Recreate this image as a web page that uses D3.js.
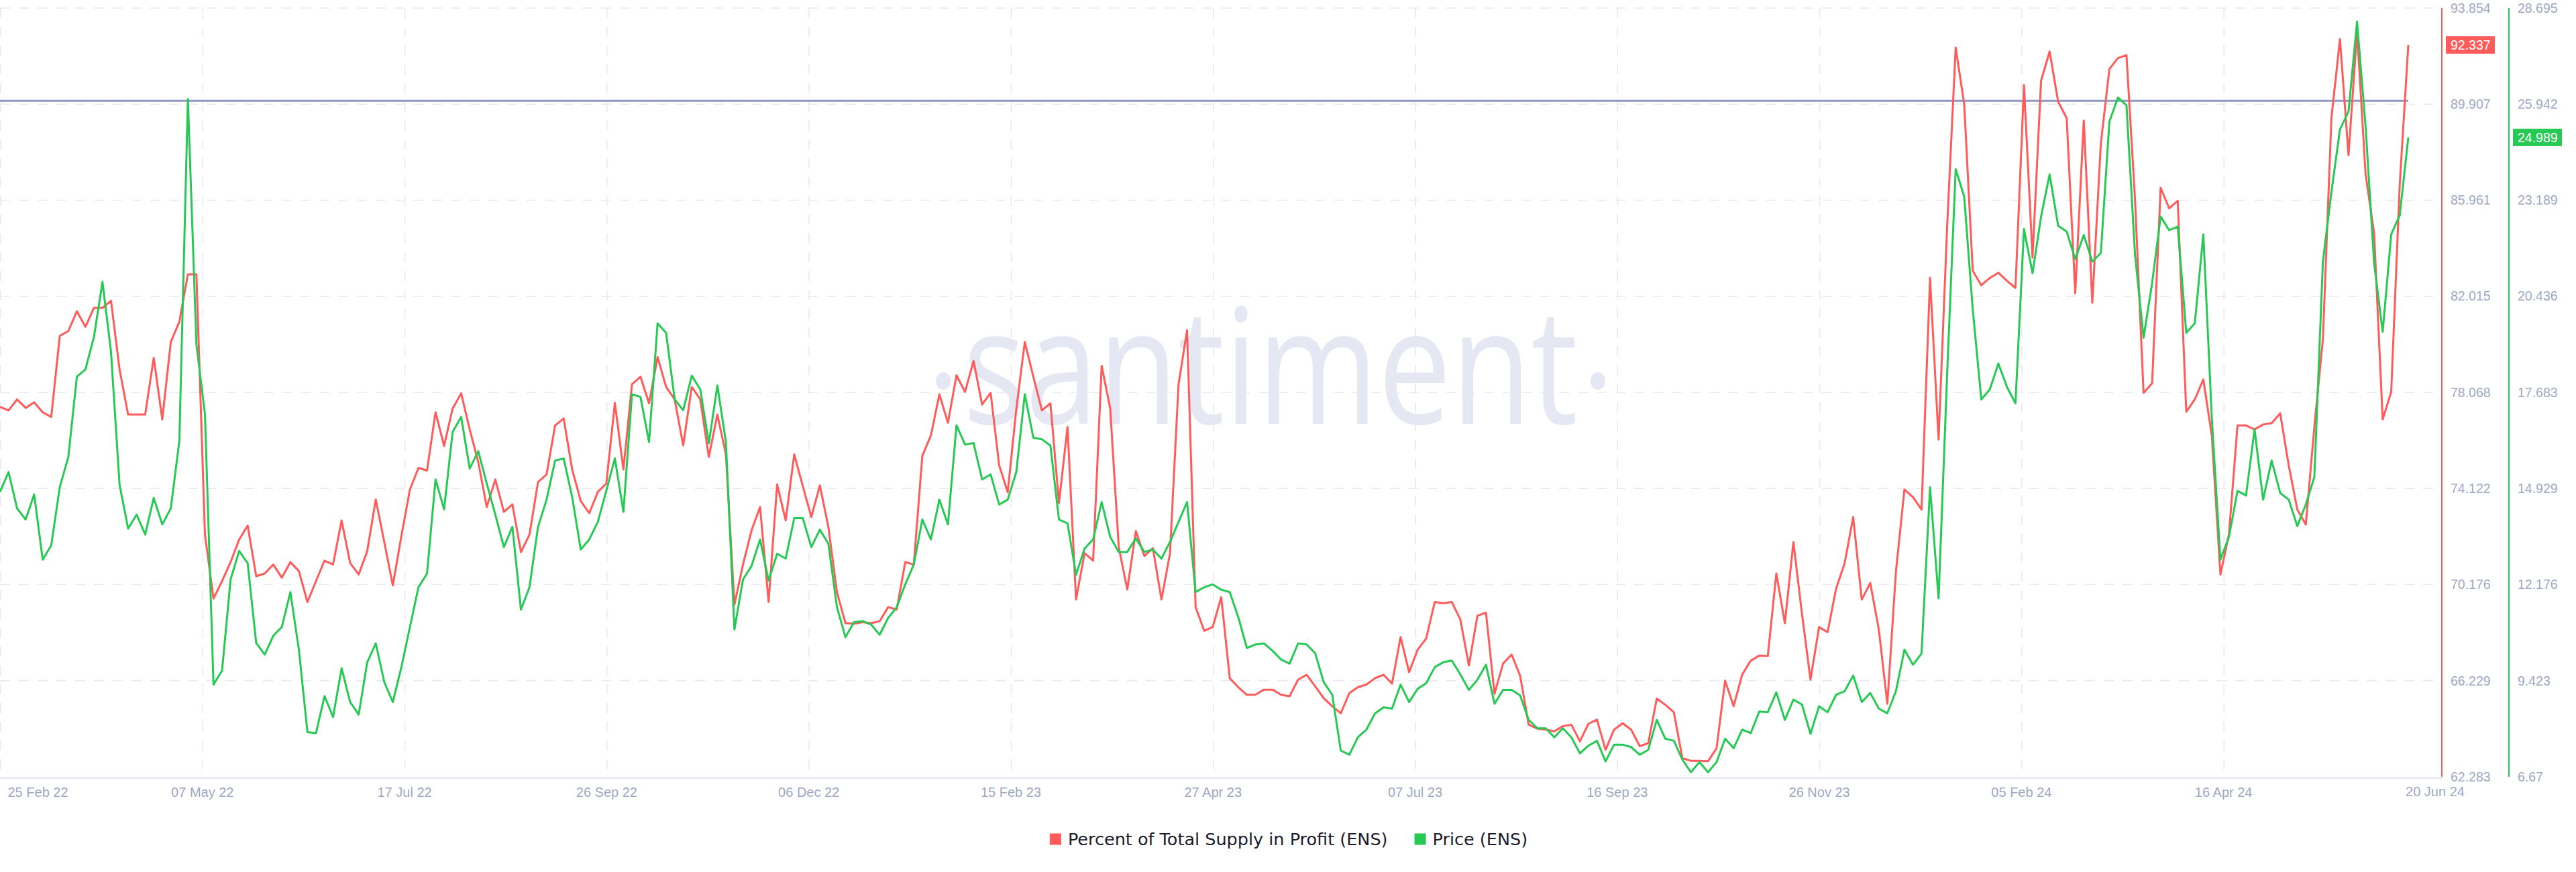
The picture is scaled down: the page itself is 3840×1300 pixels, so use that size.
<!DOCTYPE html>
<html>
<head>
<meta charset="utf-8">
<script src="https://cdn.jsdelivr.net/npm/d3@7"></script>
<style>
  html, body { margin: 0; padding: 0; background: #ffffff; }
  svg { display: block; }
</style>
</head>
<body>
<svg id="chart" width="3840" height="1300"></svg>
<script>
// ---------------- DATA ----------------
const START_DATE = "2022-02-25";   // first sample
const STEP_DAYS = 3;               // sampling step of the series below

// Percent of Total Supply in Profit (ENS)
const profitPct = [
  77.47, 77.33, 77.78, 77.43, 77.66, 77.25, 77.06, 80.39, 80.59, 81.40,
  80.76, 81.54, 81.54, 81.83, 79.01, 77.16, 77.16, 77.16, 79.49, 76.96,
  80.14, 80.97, 82.92, 82.92, 72.23, 69.60, 70.32, 71.10, 72.02, 72.60,
  70.52, 70.63, 71.00, 70.46, 71.10, 70.73, 69.46, 70.32, 71.16, 71.00,
  72.81, 71.06, 70.59, 71.55, 73.67, 71.92, 70.14, 72.17,
  74.08, 74.97, 74.86, 77.25, 75.87, 77.41, 78.03, 76.55, 75.21, 73.36,
  74.49, 73.16, 73.47, 71.51, 72.23, 74.39, 74.70, 76.71, 77.00, 74.90,
  73.61, 73.11, 73.98, 74.33, 77.64, 74.90, 78.40, 78.71, 77.62, 79.52,
  78.29, 77.78, 75.89, 78.29, 77.78, 75.42, 77.16, 75.52, 69.35, 71.00,
  72.40, 73.36, 69.46, 74.29, 72.81, 75.52, 74.22,
  72.95, 74.25, 72.54, 69.87, 68.59, 68.57, 68.63, 68.59, 68.67, 69.25,
  69.15, 71.10, 71.00, 75.46, 76.30, 77.99, 76.82, 78.77, 78.09, 79.36,
  77.57, 78.05, 75.07, 73.97, 77.37, 80.14, 78.71, 77.33, 77.62, 73.53,
  76.65, 69.56, 71.47, 71.16, 79.16, 77.41, 71.72, 69.97, 72.37, 71.35,
  71.67, 69.56, 71.45, 78.40, 80.62, 69.25, 68.28, 68.43,
  69.66, 66.33, 65.96, 65.65, 65.65, 65.86, 65.86, 65.65, 65.59, 66.27,
  66.47, 66.00, 65.51, 65.18, 64.89, 65.72, 65.96, 66.07, 66.33, 66.47,
  66.11, 68.02, 66.58, 67.50, 67.96, 69.46, 69.41, 69.46, 68.74, 66.85,
  68.90, 69.02, 65.69, 66.93, 67.30, 66.43, 64.42, 64.26, 64.22, 64.15,
  64.36, 64.42, 63.74, 64.46, 64.63, 63.39, 64.22,
  64.48, 64.22, 63.54, 63.66, 65.49, 65.24, 64.93, 63.04, 62.94, 62.94,
  62.92, 63.45, 66.23, 65.18, 66.48, 67.05, 67.26, 67.24, 70.63, 68.59,
  71.92, 68.98, 66.27, 68.43, 68.22, 70.01, 71.06, 72.95, 69.56, 70.24,
  68.33, 65.28, 70.69, 74.08, 73.77, 73.26, 82.77, 76.13, 84.87, 92.23,
  89.91, 83.06, 82.47, 82.77, 82.98, 82.65, 82.36,
  90.69, 83.60, 90.87, 92.07, 90.01, 89.33, 82.14, 89.23, 81.75, 88.30,
  91.35, 91.80, 91.92, 86.00, 78.05, 78.44, 86.47, 85.63, 85.94, 77.27,
  77.78, 78.60, 76.28, 70.59, 72.23, 76.71, 76.71, 76.55, 76.75, 76.81,
  77.21, 75.07, 73.26, 72.64, 76.65, 80.25, 89.35, 92.58, 87.81, 92.89,
  87.03, 84.60, 76.96, 78.09, 86.62, 92.337
];

// Price (ENS), USD
const price = [
  14.83, 15.40, 14.36, 14.04, 14.76, 12.89, 13.30, 14.97, 15.83, 18.13,
  18.34, 19.27, 20.85, 18.84, 15.04, 13.78, 14.18, 13.61, 14.66, 13.90,
  14.36, 16.29, 26.09, 19.06, 17.05, 9.31, 9.71, 12.32, 13.14, 12.79,
  10.50, 10.17, 10.71, 10.96, 11.96, 10.31, 7.95, 7.92, 8.98, 8.38,
  9.78, 8.81, 8.45, 9.95, 10.49, 9.38, 8.81, 9.81,
  10.96, 12.10, 12.49, 15.19, 14.33, 16.55, 16.98, 15.50, 16.00, 15.07,
  14.18, 13.25, 13.83, 11.46, 12.10, 13.83, 14.61, 15.73, 15.79, 14.68,
  13.18, 13.47, 13.97, 14.87, 15.79, 14.26, 17.63, 17.55, 16.26, 19.66,
  19.39, 17.48, 17.17, 18.16, 17.77, 16.22, 17.88, 16.26, 10.89, 12.32,
  12.71, 13.47, 12.29, 13.06, 12.92, 14.08, 14.08,
  13.25, 13.75, 13.35, 11.53, 10.67, 11.10, 11.13, 11.03, 10.74, 11.22,
  11.53, 12.18, 12.75, 14.04, 13.47, 14.61, 13.90, 16.74, 16.19, 16.23,
  15.19, 15.33, 14.47, 14.61, 15.40, 17.63, 16.38, 16.34, 16.16, 14.04,
  13.93, 12.46, 13.21, 13.47, 14.54, 13.54, 13.11, 13.11, 13.50, 13.11,
  13.18, 12.92, 13.40, 13.97, 14.54, 11.96, 12.10, 12.18,
  12.03, 11.96, 11.24, 10.36, 10.46, 10.49, 10.28, 10.03, 9.91, 10.49,
  10.46, 10.21, 9.38, 9.02, 7.42, 7.30, 7.80, 8.02, 8.48, 8.66,
  8.62, 9.31, 8.81, 9.19, 9.35, 9.81, 9.95, 10.00, 9.60, 9.16,
  9.45, 9.88, 8.76, 9.16, 9.16, 9.00, 8.30, 8.06, 8.06, 7.80,
  8.06, 7.80, 7.34, 7.56, 7.70, 7.11, 7.59,
  7.59, 7.52, 7.30, 7.44, 8.30, 7.76, 7.70, 7.16, 6.80, 7.09,
  6.80, 7.09, 7.76, 7.49, 8.02, 7.92, 8.54, 8.52, 9.09, 8.30,
  8.88, 8.74, 7.90, 8.69, 8.52, 9.02, 9.12, 9.57, 8.81, 9.07,
  8.62, 8.49, 9.12, 10.31, 9.88, 10.20, 14.97, 11.78, 18.20, 24.08,
  23.29, 20.06, 17.48, 17.77, 18.51, 17.84, 17.37,
  22.36, 21.10, 22.72, 23.93, 22.46, 22.29, 21.50, 22.19, 21.43, 21.68,
  25.44, 26.13, 25.91, 21.64, 19.25, 20.81, 22.72, 22.33, 22.43, 19.39,
  19.66, 22.21, 16.91, 12.89, 13.54, 14.86, 14.73, 16.62, 14.61, 15.73,
  14.80, 14.61, 13.85, 14.47, 15.26, 21.43, 23.43, 25.22, 25.73, 28.31,
  25.30, 21.38, 19.42, 22.21, 22.76, 24.989
];

const xTickLabels = ["25 Feb 22", "07 May 22", "17 Jul 22", "26 Sep 22", "06 Dec 22", "15 Feb 23",
                     "27 Apr 23", "07 Jul 23", "16 Sep 23", "26 Nov 23", "05 Feb 24", "16 Apr 24"];
const endDateLabel = "20 Jun 24";
const profitTicks = ["62.283", "66.229", "70.176", "74.122", "78.068", "82.015", "85.961", "89.907", "93.854"];
const priceTicks  = ["6.67", "9.423", "12.176", "14.929", "17.683", "20.436", "23.189", "25.942", "28.695"];
const referencePrice = 26.04;   // horizontal reference line (price units)
const seriesNames = ["Percent of Total Supply in Profit (ENS)", "Price (ENS)"];
const seriesColors = ["#ff5b5b", "#26c953"];

// ---------------- CHART ----------------
const plot = { left: 0, right: 3640, top: 12, bottom: 1158, dataRight: 3590 };
const svg = d3.select("#chart");
const gray = "#9ea8c4";
const gridColor = "#e6e9f3";

const parseISO = d3.utcParse("%Y-%m-%d");
const parseTick = d3.utcParse("%d %b %y");
const start = parseISO(START_DATE);
const dates = profitPct.map((_, i) => d3.utcDay.offset(start, i * STEP_DAYS));
const endDate = parseTick(endDateLabel);

const x = d3.scaleUtc().domain([start, endDate]).range([plot.left, plot.dataRight]);
const pTickVals = profitTicks.map(Number);
const gTickVals = priceTicks.map(Number);
const yP = d3.scaleLinear().domain([d3.min(pTickVals), d3.max(pTickVals)]).range([plot.bottom, plot.top]);
const yG = d3.scaleLinear().domain([d3.min(gTickVals), d3.max(gTickVals)]).range([plot.bottom, plot.top]);

// watermark
const wm = svg.append("g").attr("fill", "#e5e8f2");
wm.append("text")
  .attr("transform", "translate(1894,632) scale(0.81,1)")
  .attr("text-anchor", "middle")
  .attr("font-family", "'Open Sans', 'Noto Sans', sans-serif")
  .attr("font-size", 240)
  .text("santiment");
wm.append("ellipse").attr("cx", 1406).attr("cy", 568).attr("rx", 11).attr("ry", 13);
wm.append("ellipse").attr("cx", 2382).attr("cy", 568).attr("rx", 11).attr("ry", 13);

// grid
const grid = svg.append("g").attr("stroke", gridColor).attr("stroke-width", 1.6).attr("stroke-dasharray", "15,13");
grid.selectAll("line.h").data(pTickVals.filter(v => v !== d3.min(pTickVals))).join("line")
  .attr("x1", plot.left).attr("x2", plot.right - 12)
  .attr("y1", d => yP(d)).attr("y2", d => yP(d));
const tickDates = xTickLabels.map(parseTick);
grid.selectAll("line.v").data(tickDates).join("line")
  .attr("x1", d => x(d) + 1).attr("x2", d => x(d) + 1)
  .attr("y1", plot.top).attr("y2", plot.bottom);

// x axis
const xAxis = d3.axisBottom(x).tickValues(tickDates).tickFormat(d3.utcFormat("%d %b %y")).tickSize(0).tickPadding(14);
const gx = svg.append("g").attr("transform", `translate(0,${plot.bottom + 2})`).call(xAxis);
gx.select(".domain").remove();
gx.selectAll("text").attr("fill", gray).attr("font-size", 20).attr("font-family", "'Liberation Sans', Arial, sans-serif");
gx.selectAll(".tick").filter((d, i) => i === 0).select("text").attr("text-anchor", "start").attr("x", 11);
svg.append("line").attr("x1", plot.left).attr("x2", plot.right).attr("y1", plot.bottom + 2).attr("y2", plot.bottom + 2)
  .attr("stroke", "#e4e7f3").attr("stroke-width", 2.5);
svg.append("text").attr("x", plot.right - 10).attr("y", 1187).attr("text-anchor", "middle")
  .attr("fill", gray).attr("font-size", 20).attr("font-family", "'Liberation Sans', Arial, sans-serif")
  .text(endDateLabel);

// right axes
function rightAxis(scale, ticks, xPos, color) {
  const ax = d3.axisRight(scale).tickValues(ticks.map(Number)).tickFormat((d, i) => ticks[i]).tickSize(0).tickPadding(13);
  const g = svg.append("g").attr("transform", `translate(${xPos},0)`).call(ax);
  g.select(".domain").remove();
  g.selectAll("text").attr("fill", gray).attr("font-size", 19.5).attr("font-family", "'Liberation Sans', Arial, sans-serif");
  svg.append("line").attr("x1", xPos).attr("x2", xPos).attr("y1", plot.top).attr("y2", plot.bottom)
    .attr("stroke", color).attr("stroke-width", 2);
}
rightAxis(yP, profitTicks, plot.right, seriesColors[0]);
rightAxis(yG, priceTicks, plot.right + 100, seriesColors[1]);

// reference line
svg.append("line").attr("x1", plot.left).attr("x2", plot.dataRight)
  .attr("y1", yG(referencePrice)).attr("y2", yG(referencePrice))
  .attr("stroke", "#8e97c3").attr("stroke-width", 3);

// series lines
const pData = profitPct.map((v, i) => ({ date: dates[i], v }));
const gData = price.map((v, i) => ({ date: dates[i], v }));
svg.append("path").datum(pData)
  .attr("fill", "none").attr("stroke", seriesColors[0]).attr("stroke-width", 3).attr("stroke-linejoin", "round")
  .attr("d", d3.line().x(d => x(d.date)).y(d => yP(d.v)));
svg.append("path").datum(gData)
  .attr("fill", "none").attr("stroke", seriesColors[1]).attr("stroke-width", 3).attr("stroke-linejoin", "round")
  .attr("d", d3.line().x(d => x(d.date)).y(d => yG(d.v)));

// last value badges
function badge(xPos, yPos, color, label) {
  svg.append("rect").attr("x", xPos + 6).attr("y", yPos - 13).attr("width", 73).attr("height", 26).attr("fill", color);
  svg.append("text").attr("x", xPos + 13).attr("y", yPos).attr("dy", "0.35em")
    .attr("fill", "#ffffff").attr("font-size", 19.5).attr("font-family", "'Liberation Sans', Arial, sans-serif")
    .text(label);
}
const lastP = profitPct[profitPct.length - 1], lastG = price[price.length - 1];
badge(plot.right, yP(lastP), seriesColors[0], d3.format(".3f")(lastP));
badge(plot.right + 100, yG(lastG), seriesColors[1], d3.format(".3f")(lastG));

// legend
const legend = svg.append("g");
let cx = 0;
seriesNames.forEach((name, i) => {
  const g = legend.append("g");
  g.append("rect").attr("x", 0).attr("y", -8.5).attr("width", 17).attr("height", 17).attr("fill", seriesColors[i]);
  const t = g.append("text").attr("x", 27).attr("y", 0).attr("dy", "0.35em")
    .attr("fill", "#1b1c2e").attr("font-size", 25.5).attr("font-family", "'DejaVu Sans', sans-serif").text(name);
  const w = 27 + t.node().getComputedTextLength();
  g.attr("transform", `translate(${cx},0)`);
  cx += w + 40;
});
const totalW = cx - 40;
legend.attr("transform", `translate(${1921 - totalW / 2},1251)`);
</script>
</body>
</html>
